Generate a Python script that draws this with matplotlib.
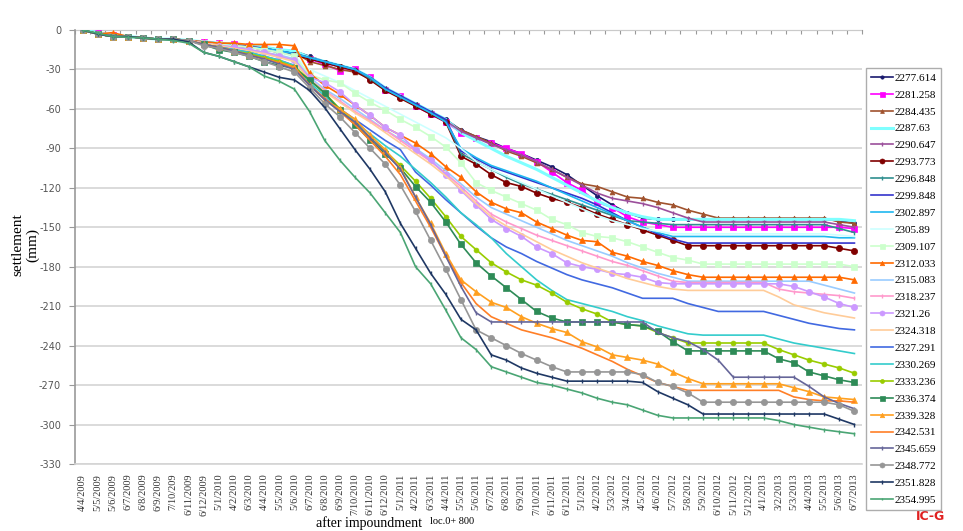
import matplotlib
matplotlib.use("Agg")
import matplotlib.pyplot as plt
import numpy as np

dates = ["4/4/2009","5/5/2009","5/6/2009","6/7/2009","6/8/2009","6/9/2009","7/10/209","6/11/2009","6/12/2009",
         "5/1/2010","4/2/2010","6/3/2010","4/4/2010","5/5/2010","5/6/2010","6/7/2010","6/8/2010","6/9/2010",
         "7/10/2010","6/11/2010","6/12/2010","5/1/2011","4/2/2011","6/3/2011","4/4/2011","5/5/2011","5/6/2011",
         "6/7/2011","6/8/2011","6/9/2011","7/10/2011","6/11/2011","6/12/2011","5/1/2012","4/2/2012","5/3/2012",
         "3/4/2012","4/5/2012","4/6/2012","5/7/2012","5/8/2012","5/9/2012","6/10/2012","5/11/2012","5/12/2012",
         "4/1/2013","3/2/2013","5/3/2013","4/4/2013","5/5/2013","5/6/2013","6/7/2013"]

s2277_614 = [0,-2,-4,-5,-6,-7,-7,-8,-9,-10,-11,-12,-13,-15,-16,
             -20,-24,-27,-30,-36,-44,-50,-56,-62,-68,-76,
             -81,-85,-90,-94,-99,-104,-110,-118,-126,-133,-139,-143,
             -144,-144,-144,-144,-144,-144,-144,-144,-144,-144,-144,-144,-145,-147]
s2281_258 = [0,-2,-4,-5,-6,-7,-7,-8,-9,-10,-11,-12,-13,-15,-17,
             -22,-26,-31,-30,-36,-46,-50,-58,-64,-70,-78,
             -82,-86,-90,-94,-100,-108,-116,-122,-131,-135,-142,-146,
             -148,-150,-150,-150,-150,-150,-150,-150,-150,-150,-150,-150,-150,-151]
s2284_435 = [0,-3,-5,-5,-6,-7,-7,-8,-9,-10,-11,-12,-13,-15,-17,
             -24,-27,-30,-32,-37,-46,-51,-57,-63,-69,-76,
             -81,-86,-92,-96,-101,-106,-112,-117,-119,-123,-127,-128,
             -131,-133,-137,-140,-143,-143,-143,-143,-143,-143,-143,-143,-146,-147]
s2287_63 = [0,-2,-4,-5,-6,-7,-7,-8,-9,-10,-11,-12,-13,-15,-16,
            -21,-24,-27,-30,-36,-44,-50,-56,-62,-68,-78,
            -84,-90,-96,-101,-106,-112,-118,-124,-130,-135,-139,-142,
            -144,-144,-144,-144,-144,-144,-144,-144,-144,-144,-144,-144,-144,-145]
s2290_647 = [0,-3,-4,-5,-6,-7,-7,-8,-9,-10,-11,-12,-14,-16,-18,
             -21,-25,-28,-31,-37,-45,-51,-57,-63,-69,-77,
             -82,-87,-91,-95,-100,-106,-112,-118,-124,-128,-130,-132,
             -135,-139,-143,-146,-146,-146,-146,-146,-146,-146,-146,-146,-148,-150]
s2293_773 = [0,-3,-5,-5,-6,-7,-7,-8,-10,-11,-12,-13,-15,-17,-19,
             -22,-25,-28,-31,-38,-46,-52,-58,-64,-70,-96,
             -102,-110,-116,-119,-124,-128,-131,-135,-140,-144,-148,-152,
             -156,-160,-164,-164,-164,-164,-164,-164,-164,-164,-164,-164,-166,-168]
s2296_848 = [0,-3,-5,-5,-6,-7,-7,-8,-10,-11,-12,-13,-14,-16,-18,
             -21,-24,-27,-30,-37,-45,-51,-57,-63,-69,-94,
             -100,-106,-112,-117,-121,-125,-129,-133,-137,-141,-145,-146,
             -147,-148,-148,-148,-148,-148,-148,-148,-148,-148,-148,-148,-151,-154]
s2299_848 = [0,-3,-5,-5,-6,-7,-7,-8,-10,-11,-12,-13,-14,-16,-18,
             -21,-24,-27,-30,-36,-44,-50,-56,-62,-68,-92,
             -98,-104,-108,-112,-116,-120,-124,-128,-133,-139,-145,-150,
             -155,-159,-162,-162,-162,-162,-162,-162,-162,-162,-162,-162,-162,-162]
s2302_897 = [0,-3,-5,-5,-6,-7,-7,-8,-10,-11,-12,-13,-14,-16,-18,
             -21,-24,-27,-30,-36,-45,-51,-57,-63,-70,-90,
             -97,-103,-107,-111,-115,-120,-125,-130,-135,-140,-145,-150,
             -154,-157,-157,-157,-157,-157,-157,-157,-157,-157,-157,-157,-158,-158]
s2305_89 = [0,-3,-5,-5,-6,-7,-7,-8,-10,-11,-12,-13,-15,-17,-20,
            -30,-35,-40,-46,-52,-58,-64,-70,-76,-82,-90,
            -100,-106,-111,-116,-121,-126,-131,-136,-141,-145,-148,-151,
            -153,-155,-155,-155,-155,-155,-155,-155,-155,-155,-155,-155,-156,-157]
s2309_107 = [0,-3,-5,-5,-6,-7,-7,-8,-10,-11,-12,-13,-15,-17,-20,
             -34,-38,-40,-48,-55,-61,-68,-74,-81,-89,-101,
             -116,-122,-127,-132,-137,-144,-148,-154,-157,-158,-161,-165,
             -169,-173,-175,-178,-178,-178,-178,-178,-178,-178,-178,-178,-178,-180]
s2312_033 = [0,-3,-2,-5,-6,-7,-7,-8,-9,-10,-10,-11,-11,-11,-12,
             -33,-42,-49,-57,-65,-74,-80,-86,-94,-104,-112,
             -123,-131,-136,-139,-146,-151,-156,-160,-161,-169,-172,-176,
             -179,-183,-186,-188,-188,-188,-188,-188,-188,-188,-188,-188,-188,-190]
s2315_083 = [0,-3,-5,-5,-6,-7,-7,-8,-10,-12,-13,-15,-17,-19,-22,
             -36,-45,-52,-60,-68,-76,-83,-90,-98,-107,-117,
             -127,-135,-140,-145,-150,-155,-160,-164,-168,-172,-177,-181,
             -185,-188,-191,-191,-191,-191,-191,-191,-191,-191,-191,-194,-197,-200]
s2318_237 = [0,-3,-5,-5,-6,-7,-7,-8,-10,-12,-13,-15,-17,-20,-23,
             -38,-46,-54,-62,-69,-76,-84,-92,-100,-109,-119,
             -130,-140,-146,-151,-156,-160,-164,-168,-172,-176,-179,-183,
             -187,-191,-192,-192,-192,-192,-192,-192,-197,-199,-200,-201,-202,-204]
s2321_26 = [0,-3,-5,-5,-6,-7,-7,-8,-10,-12,-13,-15,-17,-20,-23,
            -36,-40,-47,-57,-65,-74,-80,-91,-99,-110,-122,
            -133,-144,-151,-157,-165,-170,-177,-180,-182,-185,-186,-188,
            -192,-193,-193,-193,-193,-193,-193,-193,-193,-195,-199,-203,-208,-211]
s2324_318 = [0,-3,-5,-5,-6,-7,-7,-8,-10,-12,-14,-16,-18,-21,-24,
             -38,-47,-55,-63,-70,-78,-86,-94,-102,-111,-121,
             -132,-142,-149,-155,-161,-167,-172,-177,-181,-185,-189,-192,
             -195,-197,-198,-198,-198,-198,-198,-198,-203,-209,-212,-215,-217,-219]
s2327_291 = [0,-3,-5,-5,-6,-7,-7,-8,-11,-13,-15,-17,-20,-23,-27,
             -42,-52,-60,-68,-76,-84,-91,-108,-118,-129,-139,
             -149,-158,-165,-170,-176,-181,-186,-190,-193,-196,-200,-204,
             -204,-204,-208,-211,-214,-214,-214,-214,-217,-220,-223,-225,-227,-228]
s2330_269 = [0,-3,-5,-5,-6,-7,-7,-8,-11,-13,-15,-17,-20,-23,-27,
             -40,-50,-60,-70,-79,-88,-96,-106,-116,-127,-139,
             -148,-158,-170,-180,-190,-198,-205,-208,-211,-214,-218,-221,
             -225,-228,-231,-232,-232,-232,-232,-232,-235,-238,-240,-242,-244,-246]
s2333_236 = [0,-3,-5,-5,-6,-7,-7,-8,-11,-13,-16,-18,-21,-24,-28,
             -38,-48,-60,-71,-82,-92,-103,-115,-128,-142,-157,
             -167,-177,-184,-190,-194,-200,-207,-212,-216,-222,-224,-225,
             -230,-234,-238,-238,-238,-238,-238,-238,-243,-247,-251,-254,-257,-261]
s2336_374 = [0,-3,-5,-5,-6,-7,-7,-8,-11,-15,-17,-20,-24,-27,-29,
             -38,-48,-61,-72,-84,-94,-105,-119,-131,-146,-163,
             -177,-187,-196,-205,-214,-219,-222,-222,-222,-222,-224,-225,
             -229,-237,-244,-244,-244,-244,-244,-244,-250,-253,-260,-263,-266,-268]
s2339_328 = [0,-3,-5,-5,-6,-7,-7,-8,-11,-13,-16,-19,-22,-25,-28,
             -42,-53,-60,-68,-80,-91,-105,-127,-147,-170,-190,
             -199,-207,-211,-218,-223,-227,-230,-237,-241,-247,-249,-251,
             -254,-260,-265,-269,-269,-269,-269,-269,-269,-272,-275,-279,-280,-281]
s2342_531 = [0,-3,-5,-5,-6,-7,-7,-8,-11,-13,-16,-19,-22,-25,-29,
             -42,-52,-62,-72,-84,-96,-110,-130,-150,-172,-192,
             -208,-218,-223,-228,-231,-234,-238,-242,-247,-252,-258,-263,
             -268,-271,-274,-274,-274,-274,-274,-274,-274,-279,-281,-282,-282,-283]
s2345_659 = [0,-3,-5,-5,-6,-7,-7,-8,-11,-13,-16,-19,-22,-26,-30,
             -42,-53,-62,-70,-82,-93,-106,-127,-148,-172,-195,
             -215,-222,-222,-222,-222,-222,-222,-222,-222,-222,-222,-222,
             -230,-234,-237,-243,-251,-264,-264,-264,-264,-264,-271,-279,-284,-288]
s2348_772 = [0,-3,-5,-5,-6,-7,-7,-8,-12,-14,-17,-20,-24,-28,-32,
             -44,-56,-66,-78,-90,-102,-118,-138,-160,-182,-205,
             -228,-234,-240,-246,-251,-256,-260,-260,-260,-260,-260,-262,
             -268,-271,-276,-283,-283,-283,-283,-283,-283,-283,-283,-283,-285,-290]
s2351_828 = [0,-3,-5,-5,-6,-7,-7,-9,-17,-20,-24,-28,-32,-36,-38,
             -46,-59,-75,-91,-106,-123,-147,-166,-185,-201,-220,
             -228,-247,-251,-257,-261,-264,-267,-267,-267,-267,-267,-268,
             -275,-280,-285,-292,-292,-292,-292,-292,-292,-292,-292,-292,-296,-300]
s2354_995 = [0,-2.5,-5,-5.5,-6,-7,-8,-10,-17,-20,-24,-28,-35,-39,-45,
             -62,-84,-99,-112,-124,-139,-154,-180,-193,-213,-234,
             -243,-256,-260,-264,-268,-270,-273,-276,-280,-283,-285,-289,
             -293,-295,-295,-295,-295,-295,-295,-295,-297,-300,-302,-304,-305.5,-307]

series_names = ["2277.614","2281.258","2284.435","2287.63","2290.647","2293.773","2296.848",
                "2299.848","2302.897","2305.89","2309.107","2312.033","2315.083","2318.237",
                "2321.26","2324.318","2327.291","2330.269","2333.236","2336.374","2339.328",
                "2342.531","2345.659","2348.772","2351.828","2354.995"]
series_values = [s2277_614,s2281_258,s2284_435,s2287_63,s2290_647,s2293_773,s2296_848,
                 s2299_848,s2302_897,s2305_89,s2309_107,s2312_033,s2315_083,s2318_237,
                 s2321_26,s2324_318,s2327_291,s2330_269,s2333_236,s2336_374,s2339_328,
                 s2342_531,s2345_659,s2348_772,s2351_828,s2354_995]
yticks = list(range(0, -331, -30))

styles = [
    ("#1a1a6e", "o", 3),
    ("#ff00ff", "s", 4.5),
    ("#a0522d", "^", 3.5),
    ("#7fffff", "", 0),
    ("#9b4f9b", "|", 3),
    ("#800000", "o", 4.5),
    ("#2f8f8f", "|", 3),
    ("#3333cc", "", 0),
    ("#1fb8f0", "", 0),
    ("#ccffff", "", 0),
    ("#ccffcc", "s", 4.5),
    ("#ff6a00", "^", 4),
    ("#99ccff", "", 0),
    ("#ff99cc", "|", 3),
    ("#cc99ff", "o", 4.5),
    ("#ffcc99", "", 0),
    ("#4169e1", "", 0),
    ("#33cccc", "", 0),
    ("#99cc00", "o", 3.5),
    ("#2e8b57", "s", 4.5),
    ("#ffa020", "^", 4),
    ("#ff7f27", "", 0),
    ("#666699", "|", 3),
    ("#969696", "o", 4.5),
    ("#1f3864", "|", 3),
    ("#4aa574", "|", 2.5),
]

fig = plt.figure(figsize=(9.63, 5.31), dpi=100)
ax = fig.add_axes([75/963, 1-464/531, (862-75)/963, (464-30)/531])

x = np.arange(len(dates))
handles = []
for name, vals, (c, m, ms) in zip(series_names, series_values, styles):
    lw = 2.2 if name == "2287.63" else 1.2
    h, = ax.plot(x, vals, color=c, marker=m if m else None, markersize=ms,
                 markeredgewidth=1.0 if m == "|" else 0.5, lw=lw, label=name, zorder=3)
    handles.append(h)

ax.set_xlim(-0.5, len(dates) - 0.5)
ax.set_ylim(-330, 0)
ax.set_yticks(yticks)
ax.set_yticklabels([str(v) for v in yticks], fontsize=7, color="#555555")
ax.yaxis.grid(True, color="#d4d4d4", lw=1.2)
ax.set_axisbelow(True)
ax.tick_params(axis="y", length=4, color="#999999", pad=6)
ax.set_xticks(x)
ax.set_xticklabels(dates, rotation=90, fontsize=7.5, family="Liberation Serif", color="#333333")
ax.tick_params(axis="x", length=0, pad=7)
for sp in ["top", "right"]:
    ax.spines[sp].set_visible(False)
ax.spines["left"].set_color("#999999")
ax.spines["left"].set_linewidth(1.2)
ax.spines["bottom"].set_color("#d4d4d4")
ax.spines["bottom"].set_linewidth(1.2)

sec = ax.secondary_xaxis("top")
sec.set_xticks(np.arange(len(dates) + 1) - 0.5)
sec.set_xticklabels([])
sec.tick_params(direction="in", length=3, color="#999999")
sec.spines["top"].set_color("#999999")

fig.text(18/963, 1-245/531, "settlement", rotation=90, ha="center", va="center",
         family="Liberation Serif", fontsize=11)
fig.text(33/963, 1-245/531, "(mm)", rotation=90, ha="center", va="center",
         family="Liberation Serif", fontsize=11)
fig.text(316/963, 1-523/531, "after impoundment", ha="left", va="center",
         family="Liberation Serif", fontsize=10)
fig.text(430/963, 1-522/531, "loc.0+ 800", ha="left", va="center",
         family="Liberation Serif", fontsize=7.5)

leg = fig.legend(handles=handles, loc="upper left", bbox_to_anchor=(866/963, 1-68/531),
                 frameon=True, fancybox=False, edgecolor="#999999",
                 prop={"family": "Liberation Serif", "size": 8},
                 labelspacing=0.64, handlelength=2.0, handletextpad=0.1,
                 borderpad=0.45, borderaxespad=0, markerscale=0.8)
leg.get_frame().set_linewidth(1.0)

fig.text(930/963, 1-516/531, "IC-G", color="#e02020", ha="center", va="center",
         fontsize=9, fontweight="bold", family="DejaVu Sans")

fig.savefig("out.png", dpi=100)
